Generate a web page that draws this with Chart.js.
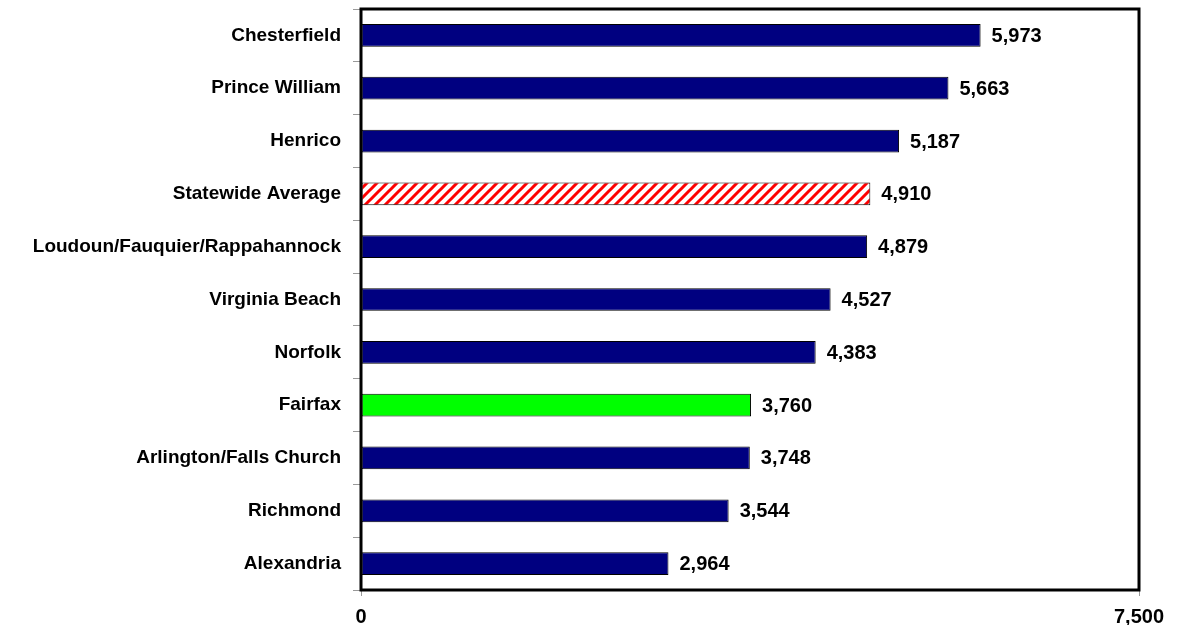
<!DOCTYPE html>
<html>
<head>
<meta charset="utf-8">
<script src="https://cdn.jsdelivr.net/npm/chart.js@4"></script>
<style>
  html, body { margin: 0; padding: 0; background: #fff; }
  #wrap { width: 1177px; height: 625px; }
</style>
</head>
<body>
<div id="wrap"><canvas id="chart" width="1177" height="625"></canvas></div>
<script>
// Daten
const categories = ['Chesterfield', 'Prince William', 'Henrico', 'Statewide Average',
    'Loudoun/Fauquier/Rappahannock', 'Virginia Beach', 'Norfolk', 'Fairfax',
    'Arlington/Falls Church', 'Richmond', 'Alexandria'];
const values = [5973, 5663, 5187, 4910, 4879, 4527, 4383, 3760, 3748, 3544, 2964];
const xTicks = [0, 7500];

const FONT = '"Liberation Sans", Arial, sans-serif';

// Schraffur fuer den Durchschnitt
function makeHatch() {
    const c = document.createElement('canvas');
    c.width = 10; c.height = 10;
    const g = c.getContext('2d');
    g.fillStyle = '#fff';
    g.fillRect(0, 0, 10, 10);
    g.strokeStyle = '#ff0000';
    g.lineWidth = 3;
    g.beginPath();
    g.moveTo(-2, 12); g.lineTo(12, -2);
    g.moveTo(-2, 2); g.lineTo(2, -2);
    g.moveTo(8, 12); g.lineTo(12, 8);
    g.stroke();
    return g.createPattern(c, 'repeat');
}

const ctx = document.getElementById('chart').getContext('2d');
const hatch = makeHatch();
const colors = categories.map(c => {
    if (c === 'Statewide Average') return hatch;
    if (c === 'Fairfax') return '#00ff00';
    return '#000080';
});

const valueLabels = {
    id: 'valueLabels',
    afterDatasetsDraw(chart) {
        const g = chart.ctx;
        const meta = chart.getDatasetMeta(0);
        g.save();
        g.font = 'bold 20px ' + FONT;
        g.fillStyle = '#000';
        g.textBaseline = 'middle';
        meta.data.forEach((bar, i) => {
            g.fillText(values[i].toLocaleString('en-US'), bar.x + 11, bar.y + 1);
        });
        g.restore();
    }
};

const frame = {
    id: 'frame',
    afterDraw(chart) {
        const a = chart.chartArea;
        const g = chart.ctx;
        g.save();
        g.strokeStyle = '#000';
        g.lineWidth = 3;
        g.strokeRect(a.left, a.top, a.right - a.left, a.bottom - a.top);
        g.restore();
    }
};

new Chart(ctx, {
    type: 'bar',
    data: {
        labels: categories,
        datasets: [{
            data: values,
            backgroundColor: colors,
            borderColor: '#000',
            borderWidth: 1,
            borderSkipped: false,
            categoryPercentage: 1,
            barPercentage: 0.43,
        }]
    },
    options: {
        indexAxis: 'y',
        responsive: false,
        animation: false,
        layout: { padding: { top: 9, right: 38, bottom: 0, left: 0 } },
        plugins: { legend: { display: false }, tooltip: { enabled: false } },
        scales: {
            x: {
                min: 0,
                max: 7500,
                afterBuildTicks(axis) { axis.ticks = xTicks.map(v => ({ value: v })); },
                grid: { drawOnChartArea: false, color: '#999', tickLength: 6 },
                border: { display: false },
                ticks: {
                    color: '#000',
                    padding: 9,
                    maxRotation: 0,
                    font: { family: FONT, size: 20, weight: 'bold' },
                    callback: v => v.toLocaleString('en-US')
                },
                afterFit(axis) { axis.height = 35; axis.paddingLeft = 0; axis.paddingRight = 0; }
            },
            y: {
                grid: { drawOnChartArea: false, color: '#999', tickLength: 8, offset: true },
                border: { display: false },
                ticks: {
                    color: '#000',
                    padding: 12,
                    font: { family: FONT, size: 19, weight: 'bold' }
                },
                afterFit(axis) { axis.width = 361; axis.paddingTop = 0; axis.paddingBottom = 0; }
            }
        }
    },
    plugins: [valueLabels, frame]
});
</script>
</body>
</html>
